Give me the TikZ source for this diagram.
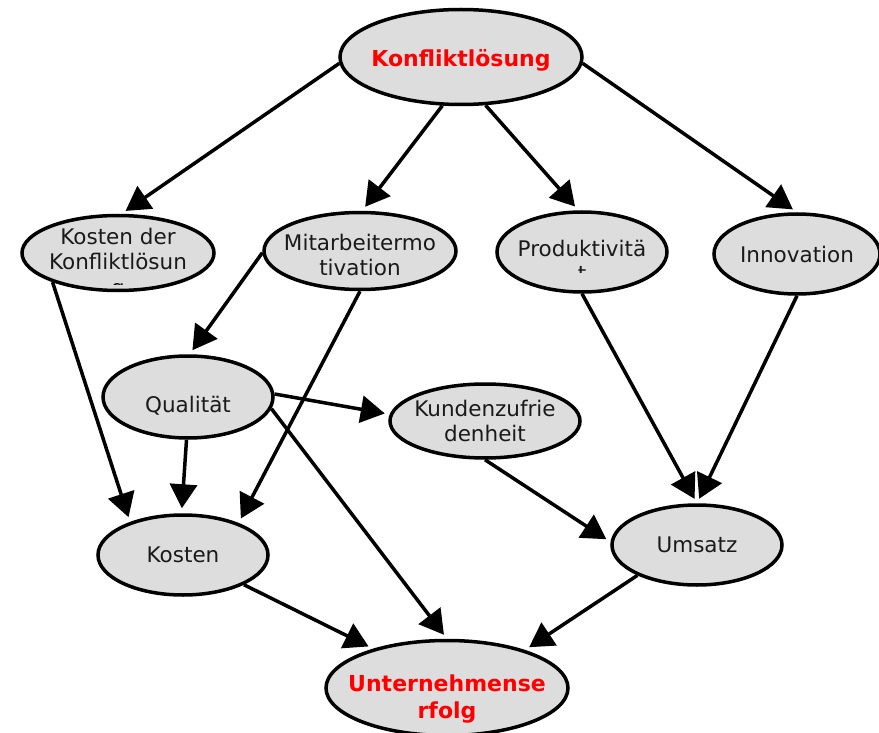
\documentclass[tikz,border=0pt]{standalone}
\usepackage{fontspec}
\setmainfont{DejaVu Sans}
\usepackage{tikz}
\usetikzlibrary{shapes.geometric,arrows.meta}
\definecolor{cellgray}{HTML}{DDDDDD}
\definecolor{textdark}{HTML}{1A1A1A}

\begin{document}
\begin{tikzpicture}[x=1pt,y=-1pt]
    \useasboundingbox (0,0) rectangle (879,733);

    % --- DEFINE STYLES ---
    % Style for the factor ellipses (negative inner sep keeps the given size)
    \tikzstyle{factor} = [ellipse, draw, line width=3.5pt, fill=cellgray, inner sep=-15pt,
                          font=\fontsize{21.5}{25.5}\selectfont, text=textdark, align=center]
    % Style for the two key ellipses (red bold text)
    \tikzstyle{keyfactor} = [factor, font=\fontsize{22}{27}\selectfont\bfseries, text=red]
    % Style for plain text inside the clipped ellipses
    \tikzstyle{cliptext} = [font=\fontsize{21.5}{25.5}\selectfont, text=textdark, align=center, inner sep=0pt]
    % Style for influence arrows
    \tikzstyle{influence} = [line width=3.5pt, -{Triangle[length=24pt,width=27pt]}, shorten >=5pt]

    % --- ELLIPSES ---
    \node[keyfactor, minimum width=242, minimum height=95] (konflikt) at (461,57) {\raisebox{-10pt}[0pt][0pt]{Konfliktlösung}};

    \node[factor, minimum width=192, minimum height=75] (kdk) at (118,253) {};
    \node[factor, minimum width=192, minimum height=77] (mitarb) at (360,251) {\rule{0pt}{24pt}Mitarbeitermo\\tivation};
    \node[factor, minimum width=170, minimum height=80] (prod) at (582,252) {};
    \node[factor, minimum width=166, minimum height=80] (innov) at (797,254) {\raisebox{-9pt}[0pt][0pt]{Innovation}};

    \node[factor, minimum width=170, minimum height=82] (qual) at (188,397) {\raisebox{-15pt}[0pt][0pt]{Qualität}};
    \node[factor, minimum width=190, minimum height=74] (kund) at (485,421) {Kundenzufrie\\denheit};

    \node[factor, minimum width=170, minimum height=80] (kosten) at (183,555) {Kosten};
    \node[factor, minimum width=170, minimum height=80] (umsatz) at (697,545) {Umsatz};

    \node[keyfactor, minimum width=242, minimum height=95] (untern) at (447,688) {\rule{0pt}{38pt}Unternehmense\\rfolg};

    % Texts cut off by their text box
    \begin{scope}
        \clip (20,220) rectangle (216,284.5);
        \node[cliptext] (kdktext) at (118,264) {Kosten der\\Konfliktlösun\\g};
    \end{scope}
    \begin{scope}
        \clip (497,220) rectangle (667,272);
        \node[cliptext] (prodtext) at (582,261) {Produktivitä\\t};
    \end{scope}

    % --- ARROWS ---
    \draw[influence] (konflikt.183) -- (kdk.85);
    \draw[influence] (konflikt.249) -- (mitarb.87);
    \draw[influence] (konflikt.297) -- (prod.95);
    \draw[influence] (konflikt.357) -- (innov.90);

    \draw[influence] (kdk.204) -- (kosten.148);
    \draw[influence] (mitarb.181) -- (qual.88);
    \draw[influence] (mitarb.270) -- (kosten.30);

    \draw[influence] (qual.268) -- (kosten.92);
    \draw[influence] (qual.2) -- (kund.176);
    \draw[influence] (qual.352) -- (untern.90);

    \draw[influence] (kund.270) -- (umsatz.178);
    \draw[influence] (prod.270) -- (umsatz.90);
    \draw[influence] (innov.270) -- (umsatz.90);

    \draw[influence] (kosten.334) -- (untern.152);
    \draw[influence] (umsatz.207) -- (untern.26);
\end{tikzpicture}
\end{document}
